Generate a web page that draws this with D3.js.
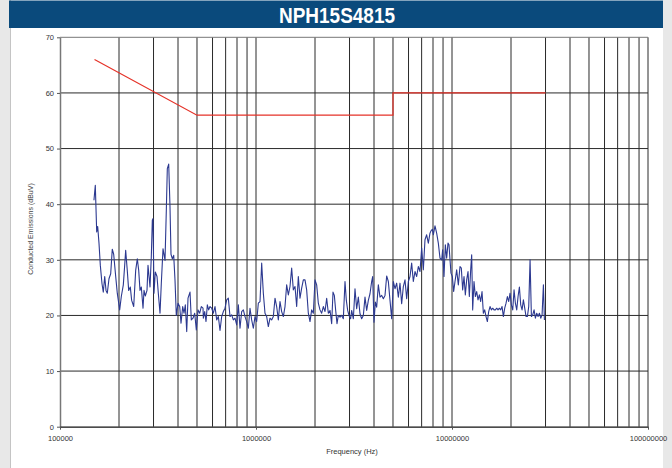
<!DOCTYPE html>
<html>
<head>
<meta charset="utf-8">
<script src="https://cdn.jsdelivr.net/npm/d3@7"></script>
<style>
  body { margin: 0; background: #e8e8e8; }
  svg { display: block; font-family: "Liberation Sans", Arial, sans-serif; }
</style>
</head>
<body>
<div id="display"></div>
<script>

const title = "NPH15S4815"
const xLabel = "Frequency (Hz)"
const yLabel = "Conducted Emissions (dBuV)"

// x tick labels (Hz) and y ticks (dBuV)
const xTickValues = [100000, 1000000, 10000000, 100000000]
const yTickValues = [0, 10, 20, 30, 40, 50, 60, 70]

// EN55022 class B style limit line
const limitFreqs = [150000, 500000, 5000000, 5000000, 30000000]
const limitLevels = [66, 56, 56, 60, 60]

const scanKHz = [
  149, 151.4, 153.9, 155.7, 158.1, 160.6, 163.8, 166.3, 169.1, 171.7,
  174.3, 177.8, 181.4, 184.8, 187.9, 192.4, 196.0, 201.6, 205.5, 210.4,
  213.8, 216.3, 220.4, 224.1, 228.4, 232.1, 237.7, 243.3, 248.0, 252.1,
  256.0, 259.9, 265.2, 268.3, 272.4, 277.9, 281.2, 287.9, 292.3, 295.8,
  298.2, 301.7, 306.4, 312.6, 317.4, 323.8, 328.7, 335.4, 343.4, 348.7,
  352.8, 358.6, 364.1, 368.4, 374.1, 380.3, 386.2, 392.1, 400.0, 408.1,
  414.4, 422.7, 429.3, 435.9, 443.1, 449.9, 460.6, 467.7, 477.1, 486.7,
  496.0, 506.0, 516.2, 526.0, 536.6,
  538.7, 547.2, 555.9, 564.6, 573.5, 582.6, 594.3, 605.8, 617.8, 630.1,
  642.5, 655.2, 668.2, 681.3, 694.8, 708.5, 722.5, 736.9, 751.4, 766.3,
  781.4, 796.9, 812.6, 828.7, 845.1, 861.8, 878.9, 896.2, 913.9, 932.0,
  950.4, 969.2, 988.3, 1007.9, 1027.8, 1048.1, 1068.9, 1090.0, 1111.5, 1133.5,
  1155.9, 1178.8, 1202.1, 1225.8, 1250.1, 1274.8, 1300.0, 1325.7, 1351.9, 1378.6,
  1406.0, 1433.7, 1462.1, 1491.0, 1520.5, 1550.5, 1581.2, 1612.4, 1644.3, 1676.8,
  1710.0, 1743.8, 1778.3, 1813.4, 1849.3, 1885.9, 1923.1, 1961.2, 2000, 2039.6,
  2079.9, 2121.0, 2162.7, 2205.8, 2249.4, 2293.9, 2339.2,
  2385.6, 2432.7, 2471.1, 2509.5, 2550.3, 2590.0, 2630.3, 2682.7, 2735.7, 2789.8,
  2845.0, 2890.0, 2935.6, 2982.0, 3041.0, 3077.0, 3137.7, 3199.8, 3263.0, 3327.5,
  3393.3, 3460.4, 3528.8, 3598.5, 3669.6, 3742.2, 3816.1, 3891.6, 3937.5, 3999.7,
  4062.8, 4127.0, 4208.6, 4292.3, 4377.3, 4463.8, 4552.0, 4642.0, 4733.8, 4827.4,
  4922.8, 5020.1, 5119.3, 5220.5, 5323.7, 5428.9, 5536.2, 5645.6, 5757.2, 5871.0,
  5987.0, 6105.4, 6226.0, 6349.1, 6474.6, 6602.5, 6733.0, 6866.1, 7001.8, 7140.2,
  7281.3, 7425.2, 7572.0, 7721.6, 7813, 7936.4, 8030, 8189.0, 8350.8, 8515.9,
  8684.3, 8855.9, 8961, 9103,
  9247, 9393, 9541, 9654, 9768, 9883, 10039, 10198, 10359, 10564,
  10773, 10986, 11159, 11336, 11515, 11697, 11882, 12070, 12260, 12454,
  12601, 12750, 12951, 13156, 13364, 13575, 13790, 14008, 14229, 14454,
  14683, 14915, 15150, 15390, 15633, 15880, 16131, 16386, 16645, 16908,
  17175, 17447, 17722, 18003, 18287, 18576, 18870, 19168, 19471, 19778,
  20091, 20408, 20731, 21058, 21391, 21729, 22072, 22421, 22775, 23135,
  23500, 23872, 24249, 24632, 25021, 25416, 25818, 26226, 26640, 27061,
  27488, 27922, 28363, 28811, 29266, 29612
]
const scanLevels = [
  40.7, 43.4, 35.0, 36.0, 33.0, 29.0, 25.7, 24.2, 27.0, 24.5,
  24.0, 26.6, 27.5, 31.9, 31.0, 27.0, 24.0, 21.0, 23.4, 25.5,
  29.0, 31.7, 28.1, 24.5, 25.1, 22.7, 21.6, 28.1, 30.2, 28.1,
  24.5, 25.1, 21.3, 24.5, 23.5, 24.5, 29.0, 25.1, 30.5, 37.1,
  37.4, 24.0, 27.8, 27.0, 24.0, 20.4, 25.7, 32.0, 29.9, 38.9,
  46.4, 47.2, 39.5, 31.0, 30.2, 30.8, 26.3, 20.0, 22.2, 21.6,
  18.6, 21.6, 20.4, 21.9, 17.1, 23.1, 24.2, 19.2, 19.5, 20.4,
  17.4, 21.0, 20.4, 21.6, 21.3,
  19.5, 20.7, 18.9, 21.9, 21.0, 21.6, 21.3, 20.4, 21.6, 19.2,
  19.8, 17.3, 19.8, 20.7, 21.3, 22.8, 23.1, 19.8, 20.1, 19.2,
  19.5, 18.3, 21.9, 17.7, 20.7, 21.0, 19.8, 18.9, 17.7, 21.3,
  19.2, 17.7, 19.8, 18.9, 22.2, 22.5, 29.4, 24.0, 20.4, 19.8,
  18.0, 19.5, 19.2, 19.8, 23.1, 21.6, 19.2, 22.5, 20.7, 19.8,
  21.6, 25.5, 23.7, 25.2, 28.5, 24.6, 25.2, 21.6, 27.0, 23.1,
  24.9, 26.4, 26.4, 24.6, 20.4, 18.9, 21.0, 20.4, 26.4, 25.5,
  22.2, 21.0, 20.4, 21.6, 20.7, 23.1, 20.4,
  20.9, 18.5, 24.2, 23.6, 20.9, 18.5, 20.0, 19.7, 20.0, 19.4,
  26.1, 22.7, 20.9, 20.0, 19.4, 20.9, 19.4, 24.8, 21.2, 23.3,
  20.3, 19.4, 20.0, 23.3, 20.9, 22.7, 23.9, 26.1, 27.0, 18.8,
  22.4, 21.5, 25.5, 23.3, 23.6, 23.0, 23.6, 27.1, 26.1, 22.7,
  19.4, 26.1, 24.8, 25.8, 23.3, 25.8, 22.1, 25.2, 26.4, 23.0,
  26.1, 27.0, 29.4, 26.1, 27.9, 27.0, 28.8, 27.9, 32.1, 28.2,
  33.6, 34.5, 33.0, 34.8, 35.2, 35.5, 34.5, 36.1, 34.8, 33.0,
  30.3, 30.0, 31.8, 27.0,
  32.7, 30.3, 33.0, 32.7, 30.0, 27.6, 27.0, 24.3, 26.1, 28.2,
  25.5, 28.8, 28.5, 24.6, 27.0, 23.7, 26.4, 27.9, 23.4, 28.2,
  30.9, 21.0, 26.1, 23.4, 24.3, 22.8, 23.7, 22.5, 24.3, 20.4,
  21.0, 19.8, 18.9, 20.7, 21.6, 21.0, 21.3, 21.0, 21.0, 21.3,
  21.0, 21.3, 21.0, 21.6, 19.8, 21.3, 22.2, 23.4, 22.5, 24.0,
  21.9, 21.0, 24.6, 22.2, 21.0, 23.4, 25.1, 21.9, 21.0, 22.8,
  21.3, 19.8, 19.8, 21.6, 30.0, 19.8, 20.1, 21.0, 19.5, 20.4,
  19.8, 20.4, 19.5, 20.1, 25.5, 19.2
]

function chart(parentNode)
{
  let width = 672
  let height = 468
  let margin = {top: 37.3, right: 24, bottom: 41.3, left: 60}

  let x = d3.scaleLog([1e5, 1e8], [margin.left, width - margin.right])
  let y = d3.scaleLinear([0, 70], [height - margin.bottom, margin.top])

  const svg = d3.create("svg")
      .attr("width", width)
      .attr("height", height)
      .attr("viewBox", [0, 0, width, height])

  // page frame
  svg.append("rect")
      .attr("width", width).attr("height", height)
      .attr("fill", "#e8e8e8")
  svg.append("rect")
      .attr("x", 11).attr("y", 0)
      .attr("width", 652).attr("height", height)
      .attr("fill", "#fff")
  svg.append("line")
      .attr("x1", 10.5).attr("x2", 10.5)
      .attr("y1", 0).attr("y2", height)
      .attr("stroke", "#c4c4c4")

  // title bar
  svg.append("rect")
      .attr("x", 9).attr("y", 0.5)
      .attr("width", 654).attr("height", 27.5)
      .attr("fill", "#0a4a7c")
  svg.append("text")
      .attr("x", 337).attr("y", 23.3)
      .attr("text-anchor", "middle")
      .attr("fill", "#fff")
      .attr("textLength", 116)
      .attr("lengthAdjust", "spacingAndGlyphs")
      .style("font-weight", "bold")
      .style("font-size", "22px")
      .text(title)

  // grid
  const grid = svg.append("g")
      .attr("stroke", "#2a2a2a")
      .attr("stroke-width", 1)
  grid.selectAll(".vx")
    .data(x.ticks().filter(d => d > 1e5))
    .join("line")
      .attr("x1", d => x(d)).attr("x2", d => x(d))
      .attr("y1", y(70)).attr("y2", y(0))
  grid.selectAll(".hy")
    .data(yTickValues.filter(d => d > 0))
    .join("line")
      .attr("x1", x(1e5)).attr("x2", x(1e8))
      .attr("y1", d => y(d)).attr("y2", d => y(d))
      .attr("stroke", d => d == 70 ? "#777" : null)

  // axes
  svg.append("g")
      .attr("transform", `translate(${margin.left},0)`)
      .call(d3.axisLeft(y).tickValues(yTickValues).tickSize(3).tickSizeOuter(0))
      .call(g => g.select(".domain").attr("stroke", "#777").attr("stroke-width", 1.5))
      .call(g => g.selectAll(".tick line").attr("stroke", "#555"))
      .call(g => g.selectAll("text").attr("fill", "#333").attr("x", -6)
          .style("font-size", "7.5px").style("font-family", null))

  svg.append("g")
      .attr("transform", `translate(0,${y(0)})`)
      .call(d3.axisBottom(x).tickValues(xTickValues).tickFormat(d3.format("d"))
          .tickSize(3).tickSizeOuter(0))
      .call(g => g.select(".domain").attr("stroke", "#111").attr("stroke-width", 1.2))
      .call(g => g.selectAll(".tick line").attr("stroke", "#555"))
      .call(g => g.selectAll("text").attr("fill", "#333").attr("y", 9)
          .style("font-size", "7.5px").style("font-family", null))

  svg.append("text")
      .attr("x", 352).attr("y", 454)
      .attr("text-anchor", "middle")
      .attr("fill", "#333")
      .style("font-size", "7.5px")
      .text(xLabel)

  svg.append("text")
      .attr("transform", "translate(33,229) rotate(-90)")
      .attr("text-anchor", "middle")
      .attr("fill", "#444")
      .style("font-size", "7px")
      .text(yLabel)

  // limit
  const limit = d3.line()
      .x((d, i) => x(d))
      .y((d, i) => y(limitLevels[i]))
  svg.append("path")
      .attr("d", limit(limitFreqs))
      .attr("fill", "none")
      .attr("stroke", "#e53228")
      .attr("stroke-width", 1.2)

  // scan
  const scan = d3.line()
      .x(d => x(d * 1000))
      .y((d, i) => y(scanLevels[i]))
  svg.append("path")
      .attr("d", scan(scanKHz))
      .attr("fill", "none")
      .attr("stroke", "#2c3990")
      .attr("stroke-width", 1.1)
      .attr("stroke-linejoin", "round")

  parentNode.appendChild(svg.node())
}

document.addEventListener("DOMContentLoaded", () => {
    chart(document.getElementById("display"));
})
</script>
</body>
</html>
